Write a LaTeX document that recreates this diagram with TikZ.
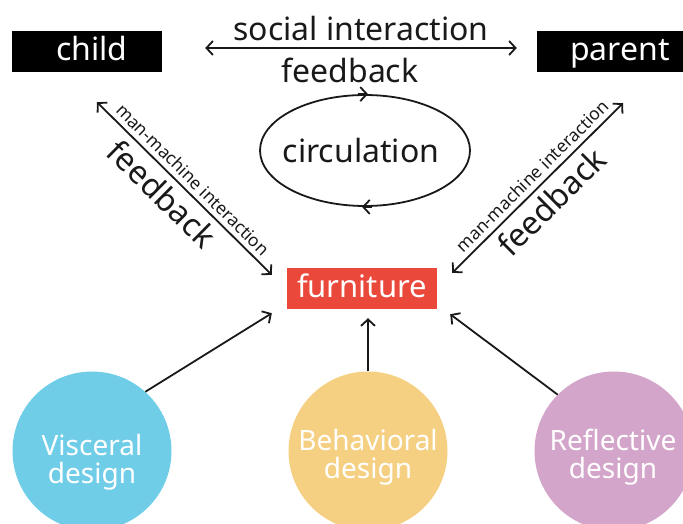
\documentclass[tikz,border=0pt]{standalone}
\usepackage{fontspec}
\setmainfont{Noto Sans}
\usetikzlibrary{arrows.meta,shapes.geometric,calc}
\definecolor{vblue}{RGB}{112,205,232}
\definecolor{byellow}{RGB}{245,208,130}
\definecolor{rpurple}{RGB}{212,165,202}
\definecolor{fred}{RGB}{234,72,58}
\definecolor{ink}{RGB}{25,25,25}
\begin{document}
\begin{tikzpicture}[x=1bp,y=-1bp,
  >={Straight Barb[length=6.5bp,width=14bp]},
  conn/.style={line width=1.8bp, draw=ink},
  blackbox/.style={fill=black, text=white, minimum height=41bp, inner sep=0pt, text height=25bp, text depth=6bp, font=\fontsize{32bp}{36bp}\selectfont},
  bigtxt/.style={font=\fontsize{32bp}{36bp}\selectfont, text=ink, inner sep=0pt},
  smalltxt/.style={font=\fontsize{17.5bp}{20bp}\selectfont, text=ink, inner sep=0pt},
  disc/.style={circle, minimum size=159bp, inner sep=0pt},
  disctxt/.style={text=white, align=center, inner sep=0pt, font=\fontsize{28bp}{28bp}\selectfont}]
\useasboundingbox (0,0) rectangle (683,524);

% top boxes
\node[blackbox, minimum width=150bp] (child) at (87,51.5) {\hspace*{10bp}child};
\node[blackbox, minimum width=166bp] (parent) at (620,51.5) {parent};

% furniture
\node[fill=fred, text=white, minimum width=150bp, minimum height=41bp, inner sep=0pt,
      text height=24bp, text depth=7bp,
      font=\fontsize{31bp}{36bp}\selectfont] (furn) at (362,288.5) {furniture};

% circulation
\node[ellipse, draw=ink, line width=1.8bp, minimum width=210bp, minimum height=111bp, inner sep=0pt] (circ) at (365,150.5) {};
\node[bigtxt] (circtxt) at ([xshift=-4bp]circ.center) {circulation};
\draw[conn,->] ([xshift=-7bp]circ.north) -- ([xshift=3bp]circ.north);
\draw[conn,->] ([xshift=7bp]circ.south) -- ([xshift=-3bp]circ.south);

% social interaction arrow
\draw[conn,<->] ([shift={(43,-3.5)}]child.east) -- ([shift={(-20,-3.5)}]parent.west)
  node[bigtxt, midway, above=6bp] (soc) {social interaction}
  node[bigtxt, midway, below=9bp, xshift=-11bp] (fbtop) {feedback};

% left diagonal
\draw[conn,<->] ([shift={(10,30)}]child.south) -- ([shift={(-15,7)}]furn.north west)
  node[smalltxt, pos=0.5, sloped, above=5bp] (lmm) {man-machine interaction}
  node[bigtxt, pos=0.45, sloped, below=6bp] (lfb) {feedback};

% right diagonal
\draw[conn,<->] ([shift={(15,5)}]furn.north east) -- ([shift={(3,31)}]parent.south)
  node[smalltxt, pos=0.52, sloped, above=5bp] (rmm) {man-machine interaction}
  node[bigtxt, pos=0.5, sloped, below=6bp] (rfb) {feedback};

% design discs
\node[disc, fill=vblue] (visc) at (92,451) {};
\node[disctxt] (visctxt) at (92,462) {Visceral\\design};
\node[disc, fill=byellow] (behav) at (368,451) {};
\node[disctxt] (behavtxt) at (368,457) {Behavioral\\design};
\node[disc, fill=rpurple] (refl) at (614,451) {};
\node[disctxt] (refltxt) at (613,457) {Reflective\\design};

% arrows to furniture
\draw[conn,->] (visc.48) -- ([shift={(-15,4)}]furn.south west);
\draw[conn,->, shorten >=9bp] (behav.north) -- (behav.north |- furn.south);
\draw[conn,->] (refl.135) -- ([shift={(13,5)}]furn.south east);
\end{tikzpicture}
\end{document}
